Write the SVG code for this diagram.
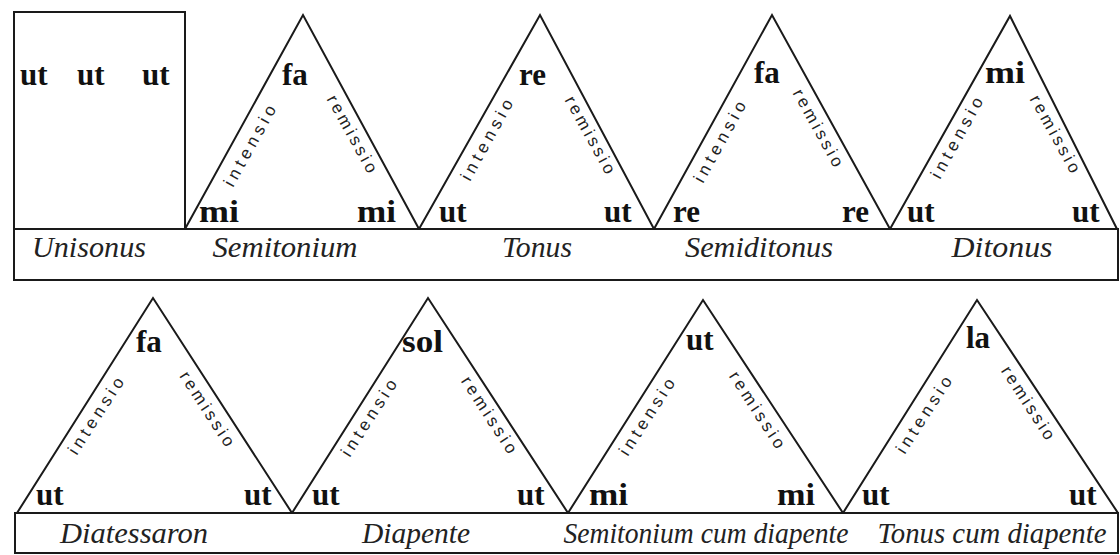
<svg xmlns="http://www.w3.org/2000/svg" width="1120" height="555" viewBox="0 0 1120 555">
<style>
  .ln{fill:none;stroke:#1a1a1a;stroke-width:2;stroke-linejoin:miter}
  .nt{font-family:"Liberation Serif",serif;font-weight:bold;font-size:31px;fill:#111}
  .sd{font-family:"Liberation Sans",sans-serif;font-size:17px;fill:#222;text-anchor:middle;dominant-baseline:central}
  .lb{font-family:"Liberation Serif",serif;font-style:italic;font-size:29px;fill:#222;text-anchor:middle}
</style>
<rect width="1120" height="555" fill="#fff"/>

<g id="bars">
  <rect class="ln" x="14" y="229" width="1104" height="51"/>
  <rect class="ln" x="15" y="513" width="1103" height="40"/>
</g>

<g id="connectors"></g>

<g id="unisonus">
  <rect class="ln" x="14" y="12" width="171" height="217"/>
  <text class="nt" x="20" y="85">ut</text>
  <text class="nt" x="77" y="85">ut</text>
  <text class="nt" x="142" y="85">ut</text>
  <text class="lb" x="89" y="257" textLength="114" lengthAdjust="spacingAndGlyphs">Unisonus</text>
</g>

<g id="semitonium">
  <polyline class="ln" points="185,229 303,15 419,229"/>
  <text class="nt" x="282" y="85">fa</text>
  <text class="nt" x="199" y="222" textLength="40" lengthAdjust="spacingAndGlyphs">mi</text>
  <text class="nt" x="357" y="222" textLength="39" lengthAdjust="spacingAndGlyphs">mi</text>
  <text class="sd" x="250" y="146" transform="rotate(-61 250 146)" textLength="90" lengthAdjust="spacing">intensio</text>
  <text class="sd" x="352" y="134" transform="rotate(61 352 134)" textLength="86" lengthAdjust="spacing">remissio</text>
  <text class="lb" x="285" y="257" textLength="145" lengthAdjust="spacingAndGlyphs">Semitonium</text>
</g>

<g id="tonus">
  <polyline class="ln" points="419,229 540,15 654,229"/>
  <text class="nt" x="519" y="85">re</text>
  <text class="nt" x="439" y="222">ut</text>
  <text class="nt" x="604" y="222">ut</text>
  <text class="sd" x="487" y="140" transform="rotate(-61 487 140)" textLength="90" lengthAdjust="spacing">intensio</text>
  <text class="sd" x="590" y="135" transform="rotate(61 590 135)" textLength="86" lengthAdjust="spacing">remissio</text>
  <text class="lb" x="537" y="257" textLength="70" lengthAdjust="spacingAndGlyphs">Tonus</text>
</g>

<g id="semiditonus">
  <polyline class="ln" points="654,229 772,15 890,229"/>
  <text class="nt" x="754" y="83">fa</text>
  <text class="nt" x="673" y="222">re</text>
  <text class="nt" x="842" y="222">re</text>
  <text class="sd" x="720" y="142" transform="rotate(-61 720 142)" textLength="90" lengthAdjust="spacing">intensio</text>
  <text class="sd" x="818" y="128" transform="rotate(61 818 128)" textLength="86" lengthAdjust="spacing">remissio</text>
  <text class="lb" x="759" y="257" textLength="148" lengthAdjust="spacingAndGlyphs">Semiditonus</text>
</g>

<g id="ditonus">
  <polyline class="ln" points="890,229 1010,16 1117,229"/>
  <text class="nt" x="985" y="83" textLength="40" lengthAdjust="spacingAndGlyphs">mi</text>
  <text class="nt" x="907" y="222">ut</text>
  <text class="nt" x="1072" y="222">ut</text>
  <text class="sd" x="957" y="138" transform="rotate(-61 957 138)" textLength="90" lengthAdjust="spacing">intensio</text>
  <text class="sd" x="1055" y="134" transform="rotate(61 1055 134)" textLength="86" lengthAdjust="spacing">remissio</text>
  <text class="lb" x="1002" y="257" textLength="101" lengthAdjust="spacingAndGlyphs">Ditonus</text>
</g>

<g id="diatessaron">
  <polyline class="ln" points="17,513 153,298 292,513"/>
  <text class="nt" x="136" y="352">fa</text>
  <text class="nt" x="36" y="505">ut</text>
  <text class="nt" x="244" y="505">ut</text>
  <text class="sd" x="96" y="416" transform="rotate(-57 96 416)" textLength="88" lengthAdjust="spacing">intensio</text>
  <text class="sd" x="207" y="409" transform="rotate(57 207 409)" textLength="86" lengthAdjust="spacing">remissio</text>
  <text class="lb" x="134" y="543" textLength="148" lengthAdjust="spacingAndGlyphs">Diatessaron</text>
</g>

<g id="diapente">
  <polyline class="ln" points="292,513 428,298 568,513"/>
  <text class="nt" x="402" y="352" textLength="41" lengthAdjust="spacingAndGlyphs">sol</text>
  <text class="nt" x="312" y="505">ut</text>
  <text class="nt" x="517" y="505">ut</text>
  <text class="sd" x="369" y="418" transform="rotate(-57 369 418)" textLength="88" lengthAdjust="spacing">intensio</text>
  <text class="sd" x="489" y="415" transform="rotate(57 489 415)" textLength="88" lengthAdjust="spacing">remissio</text>
  <text class="lb" x="416" y="543" textLength="108" lengthAdjust="spacingAndGlyphs">Diapente</text>
</g>

<g id="semitonium-cum-diapente">
  <polyline class="ln" points="568,513 703,300 843,513"/>
  <text class="nt" x="686" y="350">ut</text>
  <text class="nt" x="589" y="505" textLength="39" lengthAdjust="spacingAndGlyphs">mi</text>
  <text class="nt" x="777" y="505" textLength="38" lengthAdjust="spacingAndGlyphs">mi</text>
  <text class="sd" x="647" y="417" transform="rotate(-57 647 417)" textLength="88" lengthAdjust="spacing">intensio</text>
  <text class="sd" x="757" y="410" transform="rotate(57 757 410)" textLength="88" lengthAdjust="spacing">remissio</text>
  <text class="lb" x="706" y="543" textLength="285" lengthAdjust="spacingAndGlyphs">Semitonium cum diapente</text>
</g>

<g id="tonus-cum-diapente">
  <polyline class="ln" points="843,513 977,300 1118,513"/>
  <text class="nt" x="966" y="348">la</text>
  <text class="nt" x="862" y="505">ut</text>
  <text class="nt" x="1069" y="505">ut</text>
  <text class="sd" x="924" y="415" transform="rotate(-57 924 415)" textLength="88" lengthAdjust="spacing">intensio</text>
  <text class="sd" x="1028" y="403" transform="rotate(57 1028 403)" textLength="84" lengthAdjust="spacing">remissio</text>
  <text class="lb" x="992" y="543" textLength="229" lengthAdjust="spacingAndGlyphs">Tonus cum diapente</text>
</g>
</svg>
